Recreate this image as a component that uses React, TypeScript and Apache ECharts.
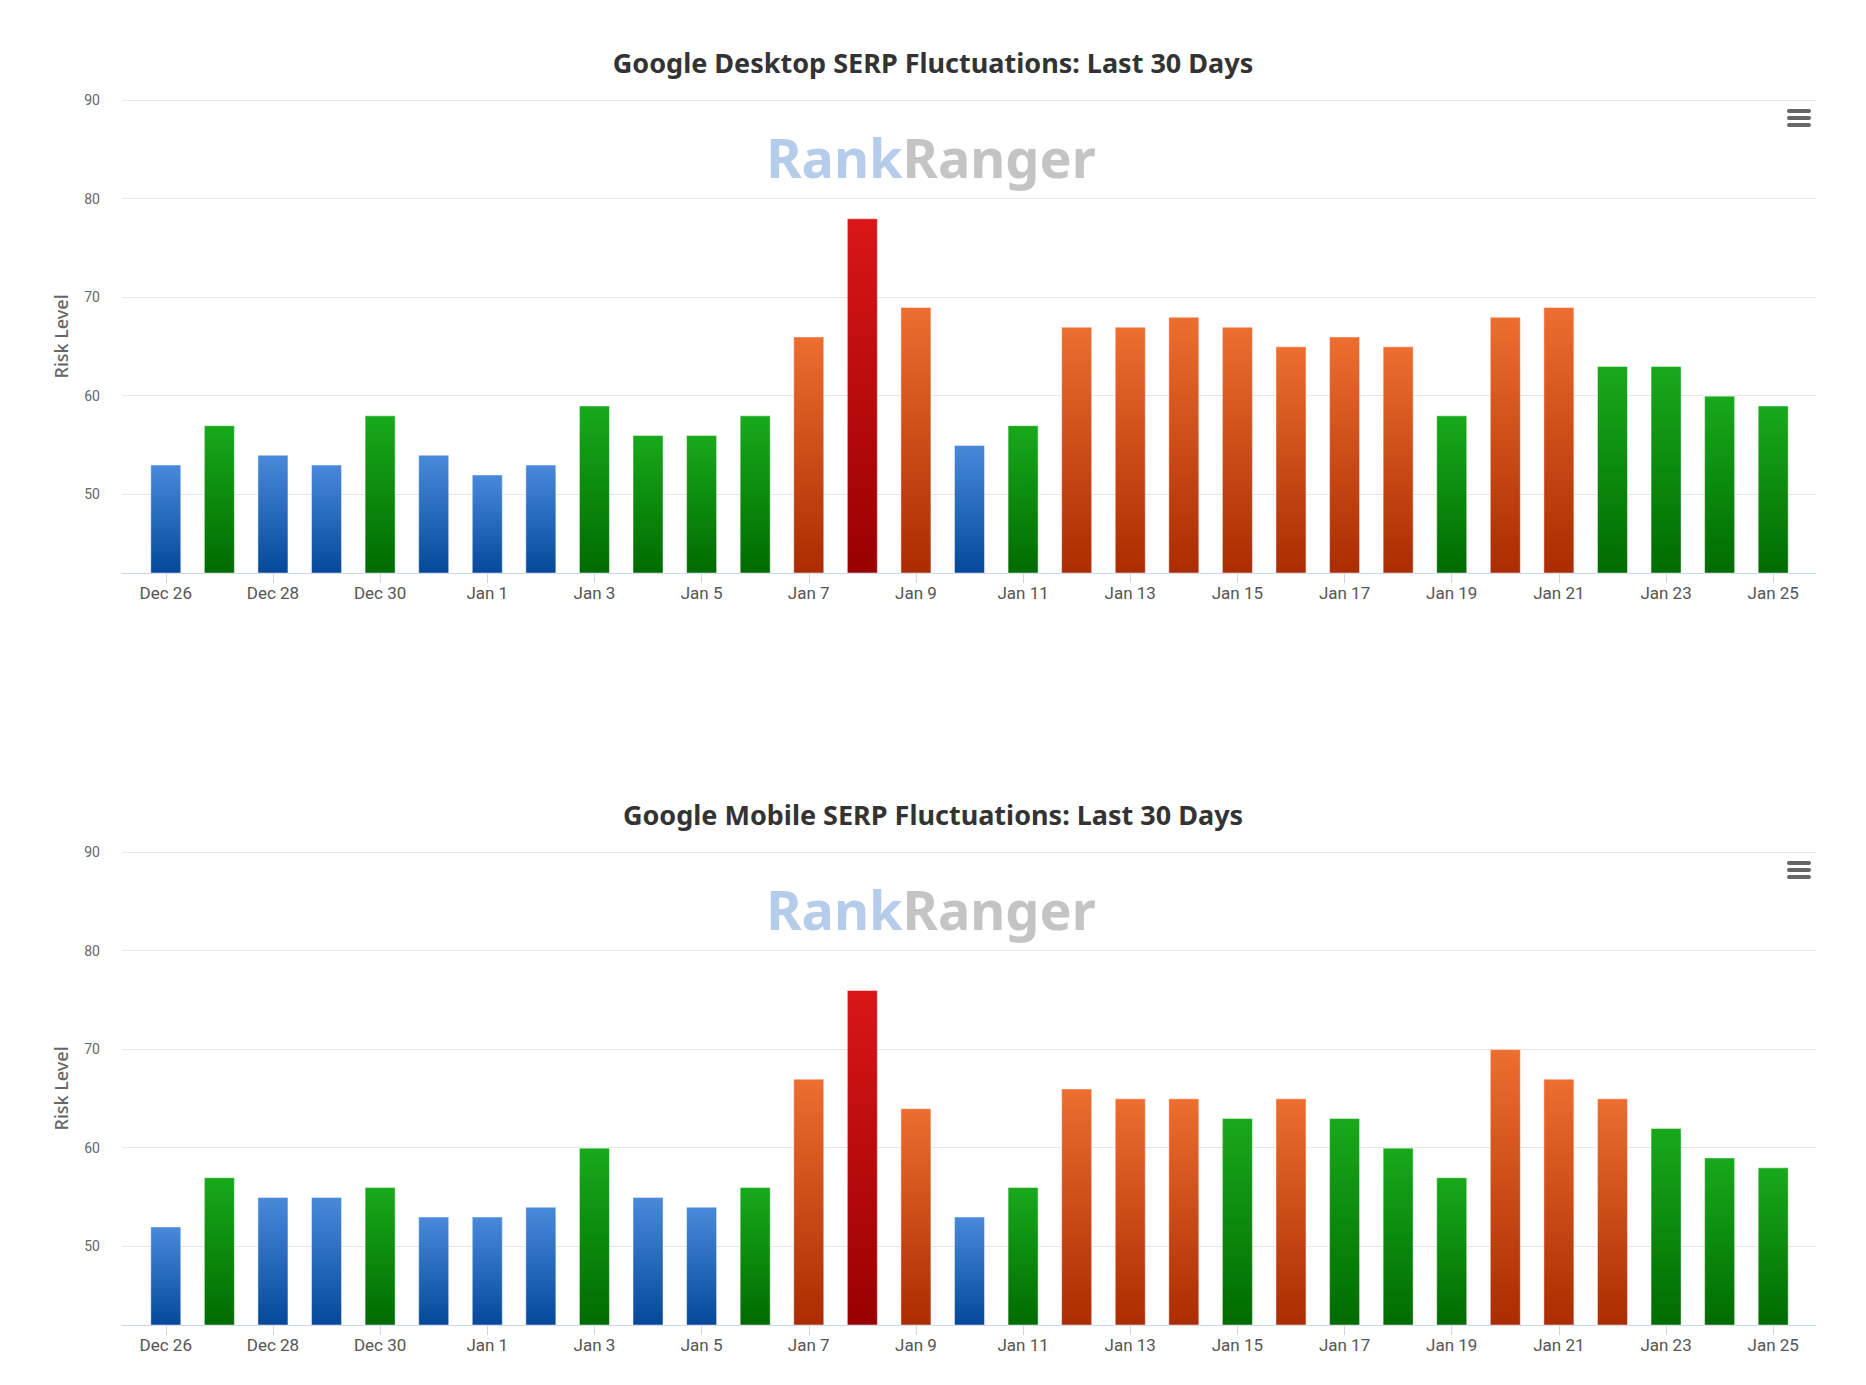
import React, { useEffect, useRef } from 'react';
import * as echarts from 'echarts';

const categories = [
  'Dec 26', 'Dec 27', 'Dec 28', 'Dec 29', 'Dec 30', 'Dec 31',
  'Jan 1', 'Jan 2', 'Jan 3', 'Jan 4', 'Jan 5', 'Jan 6', 'Jan 7', 'Jan 8', 'Jan 9',
  'Jan 10', 'Jan 11', 'Jan 12', 'Jan 13', 'Jan 14', 'Jan 15', 'Jan 16', 'Jan 17',
  'Jan 18', 'Jan 19', 'Jan 20', 'Jan 21', 'Jan 22', 'Jan 23', 'Jan 24', 'Jan 25',
];
const desktopRisk = [53, 57, 54, 53, 58, 54, 52, 53, 59, 56, 56, 58, 66, 78, 69, 55, 57, 67, 67, 68, 67, 65, 66, 65, 58, 68, 69, 63, 63, 60, 59];
const mobileRisk = [52, 57, 55, 55, 56, 53, 53, 54, 60, 55, 54, 56, 67, 76, 64, 53, 56, 66, 65, 65, 63, 65, 63, 60, 57, 70, 67, 65, 62, 59, 58];
const riskTicks = [50, 60, 70, 80, 90];
const chartTitles = [
  'Google Desktop SERP Fluctuations: Last 30 Days',
  'Google Mobile SERP Fluctuations: Last 30 Days',
];
const seriesList = [desktopRisk, mobileRisk];

const W = 1866;
const H = 1385;
const PANEL_OFFSET = 752;
const PLOT_TOP = 100;
const PLOT_H = 473;
const Y_MIN = 42;
const Y_MAX = 90;

function grad(top: string, bottom: string) {
  return new echarts.graphic.LinearGradient(0, 0, 0, 1, [
    { offset: 0, color: top },
    { offset: 1, color: bottom },
  ]);
}

function barColor(v: number) {
  if (v >= 75) return grad('#d91618', '#990000');
  if (v >= 64) return grad('#ee6d30', '#aa2c00');
  if (v >= 56) return grad('#18a91b', '#006b00');
  return grad('#4889da', '#05489a');
}

export default function App() {
  const ref = useRef<HTMLDivElement>(null);
  useEffect(() => {
    if (!ref.current) return;
    const chart = echarts.init(ref.current, null, { renderer: 'svg' });
    const grids: any[] = [];
    const xAxes: any[] = [];
    const yAxes: any[] = [];
    const series: any[] = [];
    const titles: any[] = [];
    const graphics: any[] = [];
    const labelFont = 'Roboto, "Noto Sans", sans-serif';

    seriesList.forEach((vals, p) => {
      const top = PLOT_TOP + p * PANEL_OFFSET;
      const bottom = H - top - PLOT_H;
      grids.push({ left: 122, right: 50, top, bottom, containLabel: false });
      grids.push({ left: 139, right: 66, top, bottom, containLabel: false });
      const gw = p * 2;
      const gn = p * 2 + 1;
      xAxes.push({
        gridIndex: gw, type: 'value', min: 0, max: 1,
        axisLine: { show: true, lineStyle: { color: '#ccd6eb', width: 1 } },
        axisTick: { show: false }, axisLabel: { show: false }, splitLine: { show: false },
      });
      xAxes.push({
        gridIndex: gn, type: 'category', data: categories, boundaryGap: true,
        axisLine: { show: false },
        axisTick: { show: true, interval: 1, alignWithLabel: true, length: 10, lineStyle: { color: '#ccd6eb' } },
        axisLabel: { interval: 1, margin: 11, color: '#555', fontSize: 17, fontFamily: labelFont },
        splitLine: { show: false },
      });
      yAxes.push({
        gridIndex: gw, type: 'value', min: Y_MIN, max: Y_MAX,
        name: 'Risk Level', nameLocation: 'middle', nameGap: 52, nameRotate: 90,
        nameTextStyle: { color: '#666', fontSize: 18, fontFamily: '"Noto Sans", sans-serif', fontWeight: 500 },
        axisLine: { show: false }, axisTick: { show: false, customValues: riskTicks },
        axisLabel: { customValues: riskTicks, color: '#666', fontSize: 14, margin: 22, fontFamily: labelFont },
        splitLine: { show: true, lineStyle: { color: '#e6e6e6', width: 1 } },
      });
      yAxes.push({
        gridIndex: gn, type: 'value', min: Y_MIN, max: Y_MAX, show: false,
        splitLine: { show: false },
      });
      series.push({
        type: 'bar', xAxisIndex: gn, yAxisIndex: gn, barWidth: 31,
        data: vals.map((v) => ({ value: v, itemStyle: { color: barColor(v) } })),
        itemStyle: { borderColor: 'rgba(255,255,255,0.45)', borderWidth: 1 },
      });
      titles.push({
        text: chartTitles[p], left: 'center', top: 44 + p * PANEL_OFFSET,
        textStyle: { color: '#333', fontSize: 27, fontWeight: 'bold', fontFamily: '"Noto Sans", sans-serif' },
      });
      graphics.push({
        type: 'text', x: 931, y: 157 + p * PANEL_OFFSET,
        style: {
          text: '{a|Rank}{b|Ranger}', textAlign: 'center', textVerticalAlign: 'middle',
          rich: {
            a: { fill: '#b5cdea', fontSize: 54, fontWeight: 'bold', fontFamily: '"Noto Sans", sans-serif' },
            b: { fill: '#c4c4c4', fontSize: 54, fontWeight: 'bold', fontFamily: '"Noto Sans", sans-serif' },
          },
        },
      });
      [109, 116, 123].forEach((yy) => {
        graphics.push({
          type: 'rect',
          shape: { x: 1787, y: yy + p * PANEL_OFFSET, width: 24, height: 4, r: 2 },
          style: { fill: '#666' },
        });
      });
    });

    chart.setOption({
      animation: false,
      backgroundColor: '#fff',
      title: titles,
      grid: grids,
      xAxis: xAxes,
      yAxis: yAxes,
      series,
      graphic: graphics,
    });
    return () => chart.dispose();
  }, []);
  return <div ref={ref} style={{ position: 'absolute', left: 0, top: 0, width: W, height: H }} />;
}
